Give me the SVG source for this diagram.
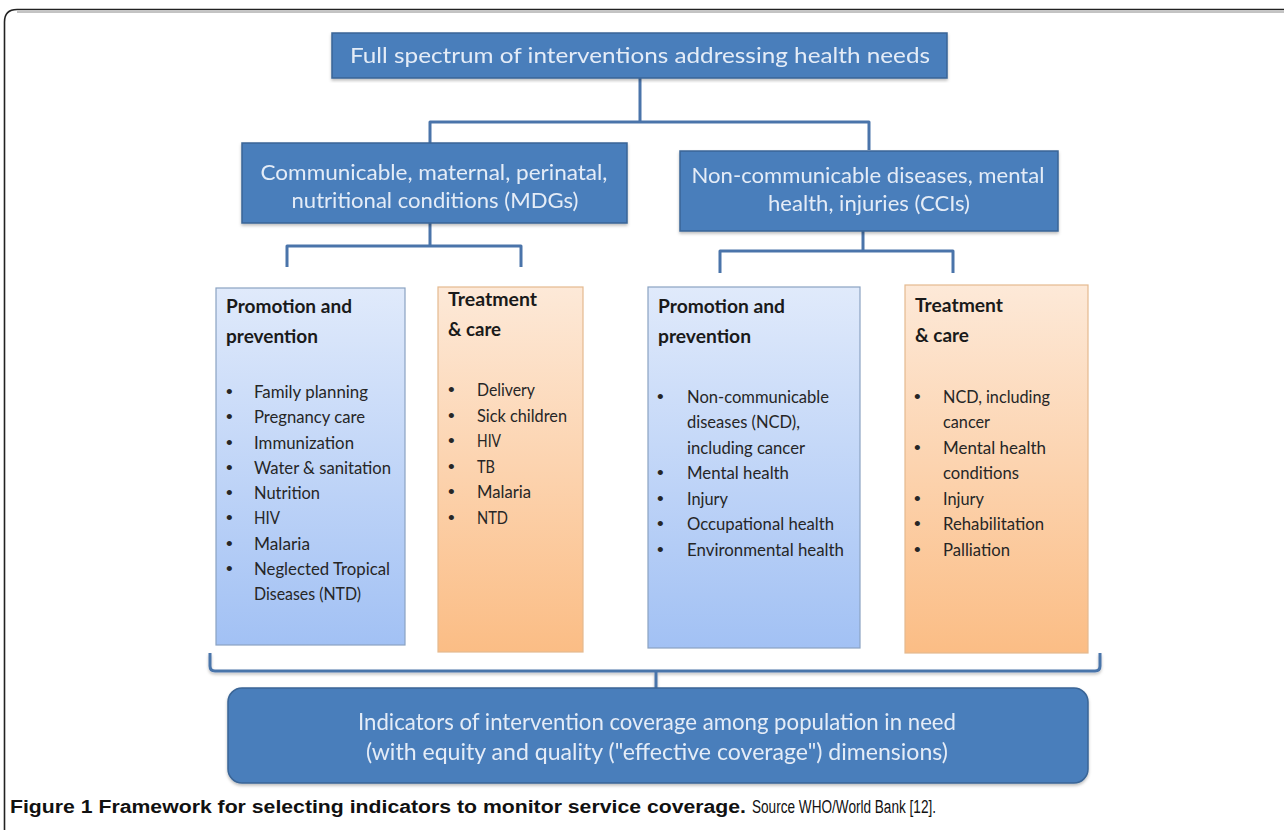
<svg xmlns="http://www.w3.org/2000/svg" width="1284" height="830" viewBox="0 0 1284 830">
<defs>
<linearGradient id="gBlue" x1="0" y1="0" x2="0" y2="1">
<stop offset="0" stop-color="#e0eafb"/>
<stop offset="1" stop-color="#a2c1f4"/>
</linearGradient>
<linearGradient id="gOrange" x1="0" y1="0" x2="0" y2="1">
<stop offset="0" stop-color="#fde9d8"/>
<stop offset="1" stop-color="#fbbd85"/>
</linearGradient>
<filter id="sh" x="-5%" y="-5%" width="110%" height="115%">
<feDropShadow dx="0" dy="2" stdDeviation="1.5" flood-color="#000" flood-opacity="0.25"/>
</filter>
</defs>
<style>
.hdr{fill:#4a7ebb;stroke:#3a6596;stroke-width:1.5}
.hdrt{font-family:Lato,"Liberation Sans",sans-serif;fill:#e4ecf7;text-anchor:middle}
.pp{fill:url(#gBlue);stroke:#8aa2c2;stroke-width:1.2}
.tc{fill:url(#gOrange);stroke:#e4b98f;stroke-width:1.2}
.ttl{font-family:Lato,"Liberation Sans",sans-serif;font-weight:bold;font-size:18px;fill:#1a1a1a}
.it{font-family:Lato,"Liberation Sans",sans-serif;font-size:18px;fill:#262626}
.bl{font-family:"Liberation Sans",sans-serif;font-size:19px;fill:#262626}
.con{fill:none;stroke:#4a74aa;stroke-width:3;stroke-linejoin:round}
.cap{font-family:"Liberation Sans",Arial,sans-serif;font-size:18px;fill:#111}
</style>
<rect width="1284" height="830" fill="#ffffff"/>
<g id="frame">
<path d="M4.5,830 V22 Q4.5,9.5 17,9.5 H1284" fill="none" stroke="#222" stroke-width="1.6"/>
<path d="M17,12 H1284" fill="none" stroke="#888" stroke-width="1"/>
</g>
<g id="connectors">
<path class="con" d="M640,78 V122 M430,143 V122 H869 V150"/>
<path class="con" d="M430,223 V246 M287,267 V246 H521 V267"/>
<path class="con" d="M863,231 V251 M720,273 V251 H953 V273"/>
<path class="con" d="M210,653 V666 Q210,671 215,671 H1095 Q1100,671 1100,666 V653 M656,671 V688" filter="url(#sh)"/>
</g>
<g id="top" filter="url(#sh)">
<rect class="hdr" x="332" y="33" width="615" height="45"/>
<text class="hdrt" x="640" y="63" font-size="22" textLength="580" lengthAdjust="spacingAndGlyphs">Full spectrum of interventions addressing health needs</text>
</g>
<g id="mdg" filter="url(#sh)">
<rect class="hdr" x="242" y="143" width="385" height="80"/>
<text class="hdrt" x="434" y="180" font-size="22" textLength="347" lengthAdjust="spacingAndGlyphs">Communicable, maternal, perinatal,</text>
<text class="hdrt" x="435" y="208" font-size="22" textLength="287" lengthAdjust="spacingAndGlyphs">nutritional conditions (MDGs)</text>
</g>
<g id="cci" filter="url(#sh)">
<rect class="hdr" x="680" y="151" width="378" height="80"/>
<text class="hdrt" x="868" y="183" font-size="22" textLength="353" lengthAdjust="spacingAndGlyphs">Non-communicable diseases, mental</text>
<text class="hdrt" x="869" y="211" font-size="22" textLength="202" lengthAdjust="spacingAndGlyphs">health, injuries (CCIs)</text>
</g>
<g id="pp1">
<rect class="pp" x="216" y="288" width="189" height="357"/>
<text class="ttl" x="226" y="313" textLength="126" lengthAdjust="spacingAndGlyphs">Promotion and</text>
<text class="ttl" x="226" y="343" textLength="92" lengthAdjust="spacingAndGlyphs">prevention</text>
<g class="bl"><text x="226" y="398">•</text><text x="226" y="423">•</text><text x="226" y="449">•</text><text x="226" y="474">•</text><text x="226" y="499">•</text><text x="226" y="524">•</text><text x="226" y="550">•</text><text x="226" y="575">•</text></g>
<text class="it" x="254" y="398" textLength="114" lengthAdjust="spacingAndGlyphs">Family planning</text>
<text class="it" x="254" y="423" textLength="111" lengthAdjust="spacingAndGlyphs">Pregnancy care</text>
<text class="it" x="254" y="449" textLength="100" lengthAdjust="spacingAndGlyphs">Immunization</text>
<text class="it" x="254" y="474" textLength="137" lengthAdjust="spacingAndGlyphs">Water &amp; sanitation</text>
<text class="it" x="254" y="499" textLength="66" lengthAdjust="spacingAndGlyphs">Nutrition</text>
<text class="it" x="254" y="524" textLength="26" lengthAdjust="spacingAndGlyphs">HIV</text>
<text class="it" x="254" y="550" textLength="56" lengthAdjust="spacingAndGlyphs">Malaria</text>
<text class="it" x="254" y="575" textLength="136" lengthAdjust="spacingAndGlyphs">Neglected Tropical</text>
<text class="it" x="254" y="600" textLength="107" lengthAdjust="spacingAndGlyphs">Diseases (NTD)</text>
</g>
<g id="tc1">
<rect class="tc" x="438" y="287" width="145" height="365"/>
<text class="ttl" x="448" y="306" textLength="89" lengthAdjust="spacingAndGlyphs">Treatment</text>
<text class="ttl" x="448" y="336" textLength="53" lengthAdjust="spacingAndGlyphs">&amp; care</text>
<g class="bl"><text x="448" y="396">•</text><text x="448" y="422">•</text><text x="448" y="447">•</text><text x="448" y="473">•</text><text x="448" y="498">•</text><text x="448" y="524">•</text></g>
<text class="it" x="477" y="396" textLength="58" lengthAdjust="spacingAndGlyphs">Delivery</text>
<text class="it" x="477" y="422" textLength="90" lengthAdjust="spacingAndGlyphs">Sick children</text>
<text class="it" x="477" y="447" textLength="24" lengthAdjust="spacingAndGlyphs">HIV</text>
<text class="it" x="477" y="473" textLength="18" lengthAdjust="spacingAndGlyphs">TB</text>
<text class="it" x="477" y="498" textLength="54" lengthAdjust="spacingAndGlyphs">Malaria</text>
<text class="it" x="477" y="524" textLength="31" lengthAdjust="spacingAndGlyphs">NTD</text>
</g>
<g id="pp2">
<rect class="pp" x="648" y="287" width="212" height="361"/>
<text class="ttl" x="658" y="313" textLength="127" lengthAdjust="spacingAndGlyphs">Promotion and</text>
<text class="ttl" x="658" y="343" textLength="93" lengthAdjust="spacingAndGlyphs">prevention</text>
<g class="bl"><text x="657" y="403">•</text><text x="657" y="479">•</text><text x="657" y="505">•</text><text x="657" y="530">•</text><text x="657" y="556">•</text></g>
<text class="it" x="687" y="403" textLength="142" lengthAdjust="spacingAndGlyphs">Non-communicable</text>
<text class="it" x="687" y="428" textLength="113" lengthAdjust="spacingAndGlyphs">diseases (NCD),</text>
<text class="it" x="687" y="454" textLength="118" lengthAdjust="spacingAndGlyphs">including cancer</text>
<text class="it" x="687" y="479" textLength="102" lengthAdjust="spacingAndGlyphs">Mental health</text>
<text class="it" x="687" y="505" textLength="41" lengthAdjust="spacingAndGlyphs">Injury</text>
<text class="it" x="687" y="530" textLength="147" lengthAdjust="spacingAndGlyphs">Occupational health</text>
<text class="it" x="687" y="556" textLength="157" lengthAdjust="spacingAndGlyphs">Environmental health</text>
</g>
<g id="tc2">
<rect class="tc" x="905" y="285" width="183" height="368"/>
<text class="ttl" x="915" y="312" textLength="88" lengthAdjust="spacingAndGlyphs">Treatment</text>
<text class="ttl" x="915" y="342" textLength="54" lengthAdjust="spacingAndGlyphs">&amp; care</text>
<g class="bl"><text x="914" y="403">•</text><text x="914" y="454">•</text><text x="914" y="505">•</text><text x="914" y="530">•</text><text x="914" y="556">•</text></g>
<text class="it" x="943" y="403" textLength="107" lengthAdjust="spacingAndGlyphs">NCD, including</text>
<text class="it" x="943" y="428" textLength="47" lengthAdjust="spacingAndGlyphs">cancer</text>
<text class="it" x="943" y="454" textLength="103" lengthAdjust="spacingAndGlyphs">Mental health</text>
<text class="it" x="943" y="479" textLength="76" lengthAdjust="spacingAndGlyphs">conditions</text>
<text class="it" x="943" y="505" textLength="41" lengthAdjust="spacingAndGlyphs">Injury</text>
<text class="it" x="943" y="530" textLength="101" lengthAdjust="spacingAndGlyphs">Rehabilitation</text>
<text class="it" x="943" y="556" textLength="67" lengthAdjust="spacingAndGlyphs">Palliation</text>
</g>
<g id="bottom" filter="url(#sh)">
<rect class="hdr" x="228" y="688" width="860" height="95" rx="14"/>
<text class="hdrt" x="657" y="730" font-size="23" textLength="598" lengthAdjust="spacingAndGlyphs">Indicators of intervention coverage among population in need</text>
<text class="hdrt" x="657" y="760" font-size="23" textLength="582" lengthAdjust="spacingAndGlyphs">(with equity and quality ("effective coverage") dimensions)</text>
</g>
<g id="caption">
<text class="cap" x="10" y="813" font-weight="bold" textLength="736" lengthAdjust="spacingAndGlyphs">Figure 1 Framework for selecting indicators to monitor service coverage.</text>
<text class="cap" x="752" y="813" textLength="184" lengthAdjust="spacingAndGlyphs">Source WHO/World Bank [12].</text>
</g>
</svg>
